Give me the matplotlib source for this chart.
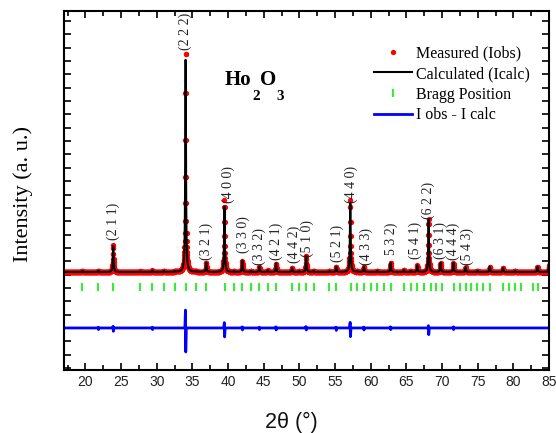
import numpy as np
import matplotlib.pyplot as plt
from matplotlib.ticker import MultipleLocator

# peak list (2theta, height above background)
peak_pos = [19.57, 21.82, 23.9, 27.72, 29.4, 31.0, 32.55, 34.05, 35.54, 36.94,
            39.5, 40.83, 42.0, 43.22, 44.39, 45.55, 46.73, 48.98, 49.96, 50.95,
            52.01, 54.22, 55.16, 57.14, 58.11, 59.04, 60.92, 62.79, 64.65, 65.6,
            66.54, 68.12, 69.8, 71.6, 73.3, 74.96, 76.69, 78.56, 80.25, 83.39, 85.0]
calc_height = [0.08, 0.1, 1.95, 0.05, 0.12, 0.08, 0.06, 15.9, 0.05, 0.7,
               4.9, 0.06, 0.85, 0.08, 0.4, 0.12, 0.65, 0.3, 0.05, 1.2,
               0.1, 0.08, 0.4, 5.2, 0.05, 0.4, 0.1, 0.7, 0.15, 0.08,
               0.5, 3.9, 0.7, 0.7, 0.35, 0.1, 0.4, 0.3, 0.1, 0.4, 0.5]
obs_height = [0.08, 0.1, 2.0, 0.05, 0.12, 0.08, 0.06, 16.8, 0.05, 0.7,
              5.4, 0.06, 0.85, 0.08, 0.4, 0.12, 0.65, 0.3, 0.05, 1.2,
              0.1, 0.08, 0.4, 5.4, 0.05, 0.4, 0.1, 0.7, 0.15, 0.08,
              0.5, 4.0, 0.7, 0.7, 0.35, 0.1, 0.4, 0.3, 0.1, 0.4, 0.5]
background = 7.19
peak_width = 0.06

bragg_pos = [19.57, 21.82, 23.92, 27.72, 29.40, 31.0, 32.55, 34.04, 35.54, 36.94,
             39.51, 40.83, 42.0, 43.22, 44.39, 45.55, 46.73, 48.98, 49.96, 51.0,
             52.01, 54.22, 55.16, 57.17, 58.11, 59.04, 59.98, 60.92, 61.85, 62.79,
             64.65, 65.60, 66.54, 67.46, 68.40, 69.10, 70.05, 71.68, 72.52, 73.32,
             74.12, 74.96, 75.81, 76.69, 78.56, 79.40, 80.25, 81.04, 82.69, 83.39, 85.0]
bragg_level = 6.1

# difference curve: offset and spikes (position, up, down)
diff_offset = 3.0
spike_pos = [21.82, 23.9, 29.4, 34.05, 39.5, 42.0, 44.39, 46.73, 50.95, 55.16,
             57.14, 59.04, 62.79, 68.12, 71.6]
spike_up = [0.05, 0.12, 0.05, 1.34, 0.4, 0.08, 0.05, 0.08, 0.1, 0.06,
            0.42, 0.06, 0.08, 0.17, 0.08]
spike_down = [0.12, 0.25, 0.12, 1.8, 0.67, 0.15, 0.12, 0.15, 0.15, 0.18,
              0.65, 0.15, 0.12, 0.5, 0.12]

labels = ["(2 1 1)", "(2 2 2)", "(3 2 1)", "(4 0 0)", "(3 3 0)", "(3 3 2)", "(4 2 1)",
          "(4 4 2)", "(5 1 0)", "(5 2 1)", "(4 4 0)", "(4 3 3)", "5 3 2)", "(5 4 1)",
          "(6 2 2)", "(6 3 1)", "(4 4 4)", "(5 4 3)"]
label_x = [23.9, 34.0, 36.94, 40.0, 42.1, 44.4, 46.8, 49.3, 51.1, 55.3, 57.3, 59.4,
           62.9, 66.3, 68.1, 69.8, 71.6, 73.6]
label_y = [9.6, 23.8, 8.1, 12.4, 8.6, 7.7, 8.1, 7.9, 8.3, 7.95, 12.4, 7.7,
           8.45, 8.2, 11.2, 8.2, 8.1, 7.7]

# compound name pieces: text, x, baseline y, size
name_parts = ["Ho", "2", "O", "3"]
name_x = [39.57, 43.45, 44.55, 46.75]
name_y = [21.21, 20.1, 21.21, 20.1]
name_size = [15, 11, 15, 11]


def profile(x, heights):
    y = np.full_like(x, background)
    for p, h in zip(peak_pos, heights):
        y += h / (1 + ((x - p) / peak_width) ** 2)
    return y


x_obs = np.arange(17, 85.001, 0.02)
x_calc = np.arange(17, 85.001, 0.005)
y_obs = profile(x_obs, obs_height)
y_calc = profile(x_calc, calc_height)

dx = [17.0]
dy = [diff_offset]
for p, u, d in zip(spike_pos, spike_up, spike_down):
    dx += [p - 0.1, p - 0.02, p + 0.02, p + 0.1]
    dy += [diff_offset, diff_offset + u, diff_offset - d, diff_offset]
dx.append(85.0)
dy.append(diff_offset)

fig = plt.figure(figsize=(5.56, 4.33), dpi=100)
ax = fig.add_axes([0.1151, 0.1455, 0.8723, 0.8291])

ax.plot(x_obs, y_obs, 'o', color='red', markersize=3.8, markeredgewidth=0,
        label='Measured (Iobs)')
ax.plot(x_calc, y_calc, '-', color='black', linewidth=1.5, label='Calculated (Icalc)')
ax.plot(bragg_pos, [bragg_level] * len(bragg_pos), '|', color='#33ee33',
        markersize=6, markeredgewidth=1.5, label='Bragg Position')
ax.plot(dx, dy, '-', color='blue', linewidth=2, label='I obs - I calc')

for t, x, y in zip(labels, label_x, label_y):
    ax.text(x, y, t, rotation=90, ha='center', va='bottom', fontsize=10,
            family='Liberation Serif', color='#222222')

for t, x, y, s in zip(name_parts, name_x, name_y, name_size):
    ax.text(x, y, t, fontsize=s, family='Liberation Serif', weight='bold',
            ha='left', va='baseline')

ax.set_xlim(17, 85)
ax.set_ylim(-0.15, 26.75)
ax.xaxis.set_major_locator(MultipleLocator(5))
ax.xaxis.set_minor_locator(MultipleLocator(2.5))
ax.yaxis.set_major_locator(MultipleLocator(1))
ax.set_yticklabels([])
ax.tick_params(which='both', direction='in', top=True, right=True, width=1.2,
               labelsize=10, labelcolor='#222222')
ax.tick_params(which='major', length=5)
ax.tick_params(which='minor', length=3.5)
for s in ax.spines.values():
    s.set_linewidth(1.5)
for lab in ax.get_xticklabels():
    lab.set_family('Liberation Sans')

ax.set_xlabel('2θ (°)', fontsize=15.5, family='Liberation Sans', color='#111111')
ax.xaxis.set_label_coords(0.468, -0.118)
ax.set_ylabel('Intensity (a. u.)', fontsize=16, family='Liberation Serif',
              color='black')
ax.yaxis.set_label_coords(-0.064, 0.489)

ax.legend(loc='upper left', bbox_to_anchor=(0.639, 0.905), frameon=False,
          numpoints=1, handlelength=2.4, handletextpad=0.25, borderpad=0,
          borderaxespad=0, labelspacing=0.3,
          prop={'family': 'Liberation Serif', 'size': 11.5})

fig.savefig('out.png', dpi=100)
